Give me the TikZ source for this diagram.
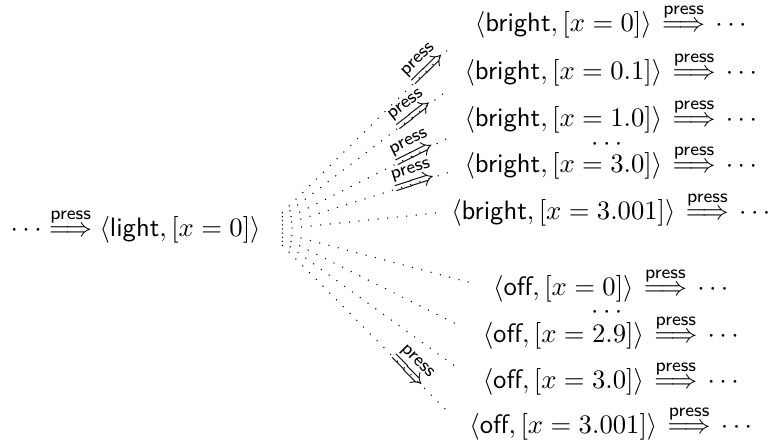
\documentclass[tikz,border=0pt]{standalone}
\usepackage{amsmath,amssymb}
\usetikzlibrary{calc}
\newcommand{\pressto}{\stackrel{\textsf{press}}{\Longrightarrow}}
\newcommand{\thenpress}{\mkern2mu\pressto\mkern2mu\cdots}
\begin{document}
\begin{tikzpicture}[
    x=0.375pt, y=-0.375pt,
    state/.style={anchor=base, inner sep=0.333em},
    fan/.style={line width=0.4pt, dash pattern=on 0.4pt off 3.2pt},
    lbl/.style={sloped, anchor=mid, inner sep=0pt}
  ]
    \useasboundingbox (0,0) rectangle (768,441);
    \node[state, anchor=base east] (root) at (270,236) {$\cdots \pressto \langle\textsf{light},[x=0]\rangle$};
    % bright branch
    \node[state] (b1) at (613,31) {$\langle\textsf{bright},[x=0]\rangle \thenpress$};
    \node[state] (b2) at (613,79) {$\langle\textsf{bright},[x=0.1]\rangle \thenpress$};
    \node[state] (b3) at (613,126) {$\langle\textsf{bright},[x=1.0]\rangle \thenpress$};
    \node[state] (bgap) at (609,150) {$\cdots$};
    \node[state] (b4) at (613,172) {$\langle\textsf{bright},[x=3.0]\rangle \thenpress$};
    \node[state] (b5) at (613,219) {$\langle\textsf{bright},[x=3.001]\rangle \thenpress$};
    % off branch
    \node[state] (o1) at (613,295) {$\langle\textsf{off},[x=0]\rangle \thenpress$};
    \node[state] (ogap) at (609,318) {$\cdots$};
    \node[state] (o2) at (613,342) {$\langle\textsf{off},[x=2.9]\rangle \thenpress$};
    \node[state] (o3) at (613,388) {$\langle\textsf{off},[x=3.0]\rangle \thenpress$};
    \node[state] (o4) at (613,433) {$\langle\textsf{off},[x=3.001]\rangle \thenpress$};
    % fan of successors
    \draw[fan] ($(root.base east)+(12,-23)$) -- node[lbl,pos=.87] {$\pressto$} ($(b1.base west)+(-16,17)$);
    \draw[fan] ($(root.base east)+(12,-19)$) -- node[lbl,pos=.79] {$\pressto$} ($(b2.base west)+(-6,10)$);
    \draw[fan] ($(root.base east)+(12,-15)$) -- node[lbl,pos=.79] {$\pressto$} ($(b3.base west)+(-5,11)$);
    \draw[fan] ($(root.base east)+(12,-11)$) -- node[lbl,pos=.79] {$\pressto$} ($(b4.base west)+(-5,0)$);
    \draw[fan] ($(root.base east)+(12,-7)$) -- ($(b5.base west)+(-6,-6)$);
    \draw[fan] ($(root.base east)+(12,-3)$) -- ($(o1.base west)+(-12,-12)$);
    \draw[fan] ($(root.base east)+(12,1)$) -- ($(o2.base west)+(-11,-15)$);
    \draw[fan] ($(root.base east)+(12,5)$) -- ($(o3.base west)+(-13,-18)$);
    \draw[fan] ($(root.base east)+(12,9)$) -- node[lbl,pos=.76] {$\pressto$} ($(o4.base west)+(-13,-22)$);
\end{tikzpicture}
\end{document}
